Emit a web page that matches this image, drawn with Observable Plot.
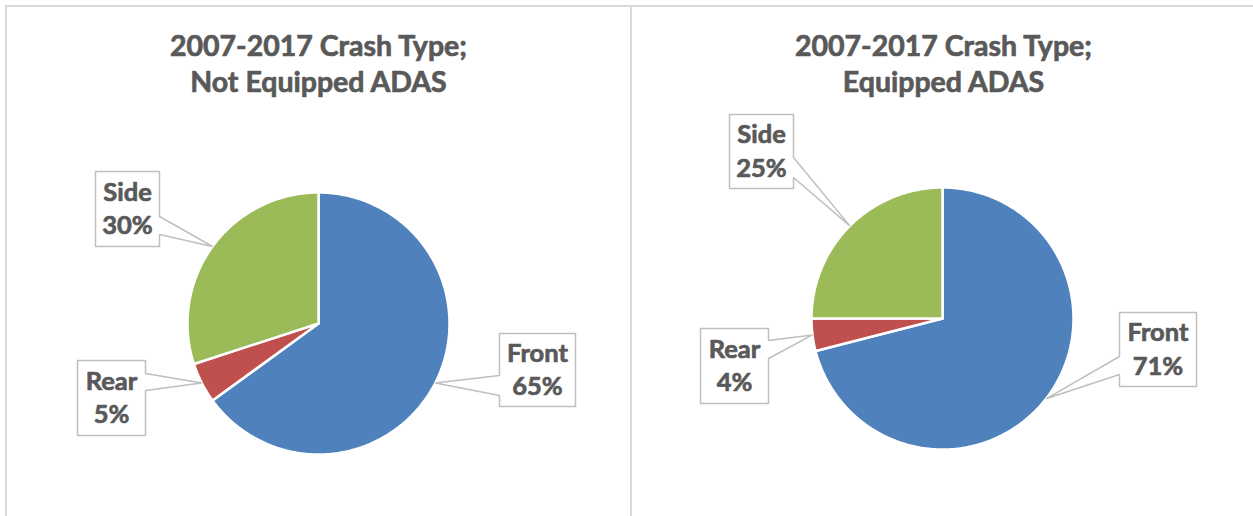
<!DOCTYPE html>
<html>
<head>
<meta charset="utf-8">
<script src="https://cdn.jsdelivr.net/npm/d3@7"></script>
<script src="https://cdn.jsdelivr.net/npm/@observablehq/plot@0.6"></script>
<style>
  html, body { margin: 0; padding: 0; background: #fff; }
  #wrap { position: relative; width: 1253px; height: 516px; overflow: hidden; }
  .bd { position: absolute; background: #D9D9D9; pointer-events: none; }
</style>
</head>
<body>
<div id="wrap">
  <div id="chart"></div>
  <div class="bd" style="left:5px; top:5px; width:1248px; height:2px;"></div>
  <div class="bd" style="left:5px; top:5px; width:2px; height:511px;"></div>
  <div class="bd" style="left:630px; top:5px; width:2px; height:511px;"></div>
</div>
<script>
// ---- data ----
const categories = ["Front", "Rear", "Side"];
const notEquippedValues = [65, 5, 30];
const equippedValues = [71, 4, 25];
const titleLine1 = ["2007-2017 Crash Type;", "2007-2017 Crash Type;"];
const titleLine2 = ["Not Equipped ADAS", "Equipped ADAS"];
const colors = ["#4F81BD", "#C0504D", "#9BBB59"];

// ---- layout (page pixel space) ----
const layout = [
  { values: notEquippedValues, cx: 318, cy: 323, r: 131, tx: 318,
    boxes: [
      { x0: 499, y0: 333, x1: 575, y1: 406, side: "left",  pa: 375, pb: 395 },
      { x0: 77,  y0: 360, x1: 145, y1: 435, side: "right", pa: 373, pb: 390 },
      { x0: 95,  y0: 171, x1: 159, y1: 246, side: "right", pa: 216, pb: 234 }
    ] },
  { values: equippedValues, cx: 942, cy: 318, r: 131, tx: 943,
    boxes: [
      { x0: 1119, y0: 312, x1: 1196, y1: 386, side: "left",  pa: 356, pb: 374 },
      { x0: 700,  y0: 328, x1: 768,  y1: 403, side: "right", pa: 340, pb: 358 },
      { x0: 729,  y0: 114, x1: 793,  y1: 188, side: "right", pa: 157, pb: 177 }
    ] }
];

const FONT = "Lato, 'Open Sans', sans-serif";
const slicePts = [], calloutPts = [], labelTexts = [], titleTexts = [];

layout.forEach((p, pi) => {
  const arcs = d3.pie().sort(null).value(d => d)(p.values);
  arcs.forEach((a, i) => {
    const key = pi + "-" + i;
    const pt = (ang) => ({ x: p.cx + p.r * Math.sin(ang), y: p.cy - p.r * Math.cos(ang), key, cat: categories[i] });
    slicePts.push({ x: p.cx, y: p.cy, key, cat: categories[i] });
    const steps = Math.max(2, Math.ceil((a.endAngle - a.startAngle) / (Math.PI / 180)));
    for (let s = 0; s <= steps; s++) slicePts.push(pt(a.startAngle + (a.endAngle - a.startAngle) * s / steps));
    slicePts.push({ x: p.cx, y: p.cy, key, cat: categories[i] });

    // callout
    const b = p.boxes[i];
    const mid = (a.startAngle + a.endAngle) / 2;
    const tip = { x: p.cx + p.r * Math.sin(mid), y: p.cy - p.r * Math.cos(mid) };
    let poly;
    if (b.side === "right") {
      poly = [[b.x0, b.y0], [b.x1, b.y0], [b.x1, b.pa], [tip.x, tip.y], [b.x1, b.pb], [b.x1, b.y1], [b.x0, b.y1], [b.x0, b.y0]];
    } else {
      poly = [[b.x0, b.y0], [b.x1, b.y0], [b.x1, b.y1], [b.x0, b.y1], [b.x0, b.pb], [tip.x, tip.y], [b.x0, b.pa], [b.x0, b.y0]];
    }
    poly.forEach(([x, y]) => calloutPts.push({ x, y, key: "c" + key }));
    const mx = (b.x0 + b.x1) / 2, my = (b.y0 + b.y1) / 2;
    labelTexts.push({ x: mx, y: my - 16.5, text: categories[i] });
    labelTexts.push({ x: mx, y: my + 17, text: p.values[i] + "%" });
  });
  titleTexts.push({ x: p.tx, y: 46, text: titleLine1[pi] });
  titleTexts.push({ x: p.tx, y: 82, text: titleLine2[pi] });
});

const chart = Plot.plot({
  width: 1253,
  height: 516,
  margin: 0,
  style: { background: "transparent", overflow: "visible" },
  x: { domain: [0, 1253], range: [0, 1253], axis: null },
  y: { domain: [0, 516], range: [0, 516], axis: null },
  color: { domain: categories, range: colors },
  marks: [
    Plot.line(slicePts, { x: "x", y: "y", z: "key", fill: "cat", stroke: "white", strokeWidth: 2.5, strokeLinejoin: "miter", curve: "linear" }),
    Plot.line(calloutPts, { x: "x", y: "y", z: "key", fill: "white", stroke: "#BFBFBF", strokeWidth: 1.5, strokeLinejoin: "miter", curve: "linear" }),
    Plot.text(labelTexts, { x: "x", y: "y", text: "text", fill: "#595959", stroke: "#595959", strokeWidth: 0.7, paintOrder: "stroke", fontSize: 25.5, fontWeight: "bold", fontFamily: FONT, textAnchor: "middle", lineAnchor: "middle" }),
    Plot.text(titleTexts, { x: "x", y: "y", text: "text", fill: "#595959", stroke: "#595959", strokeWidth: 0.7, paintOrder: "stroke", fontSize: 28.5, fontWeight: "bold", fontFamily: FONT, textAnchor: "middle", lineAnchor: "middle" })
  ]
});
document.getElementById("chart").appendChild(chart);
</script>
</body>
</html>
